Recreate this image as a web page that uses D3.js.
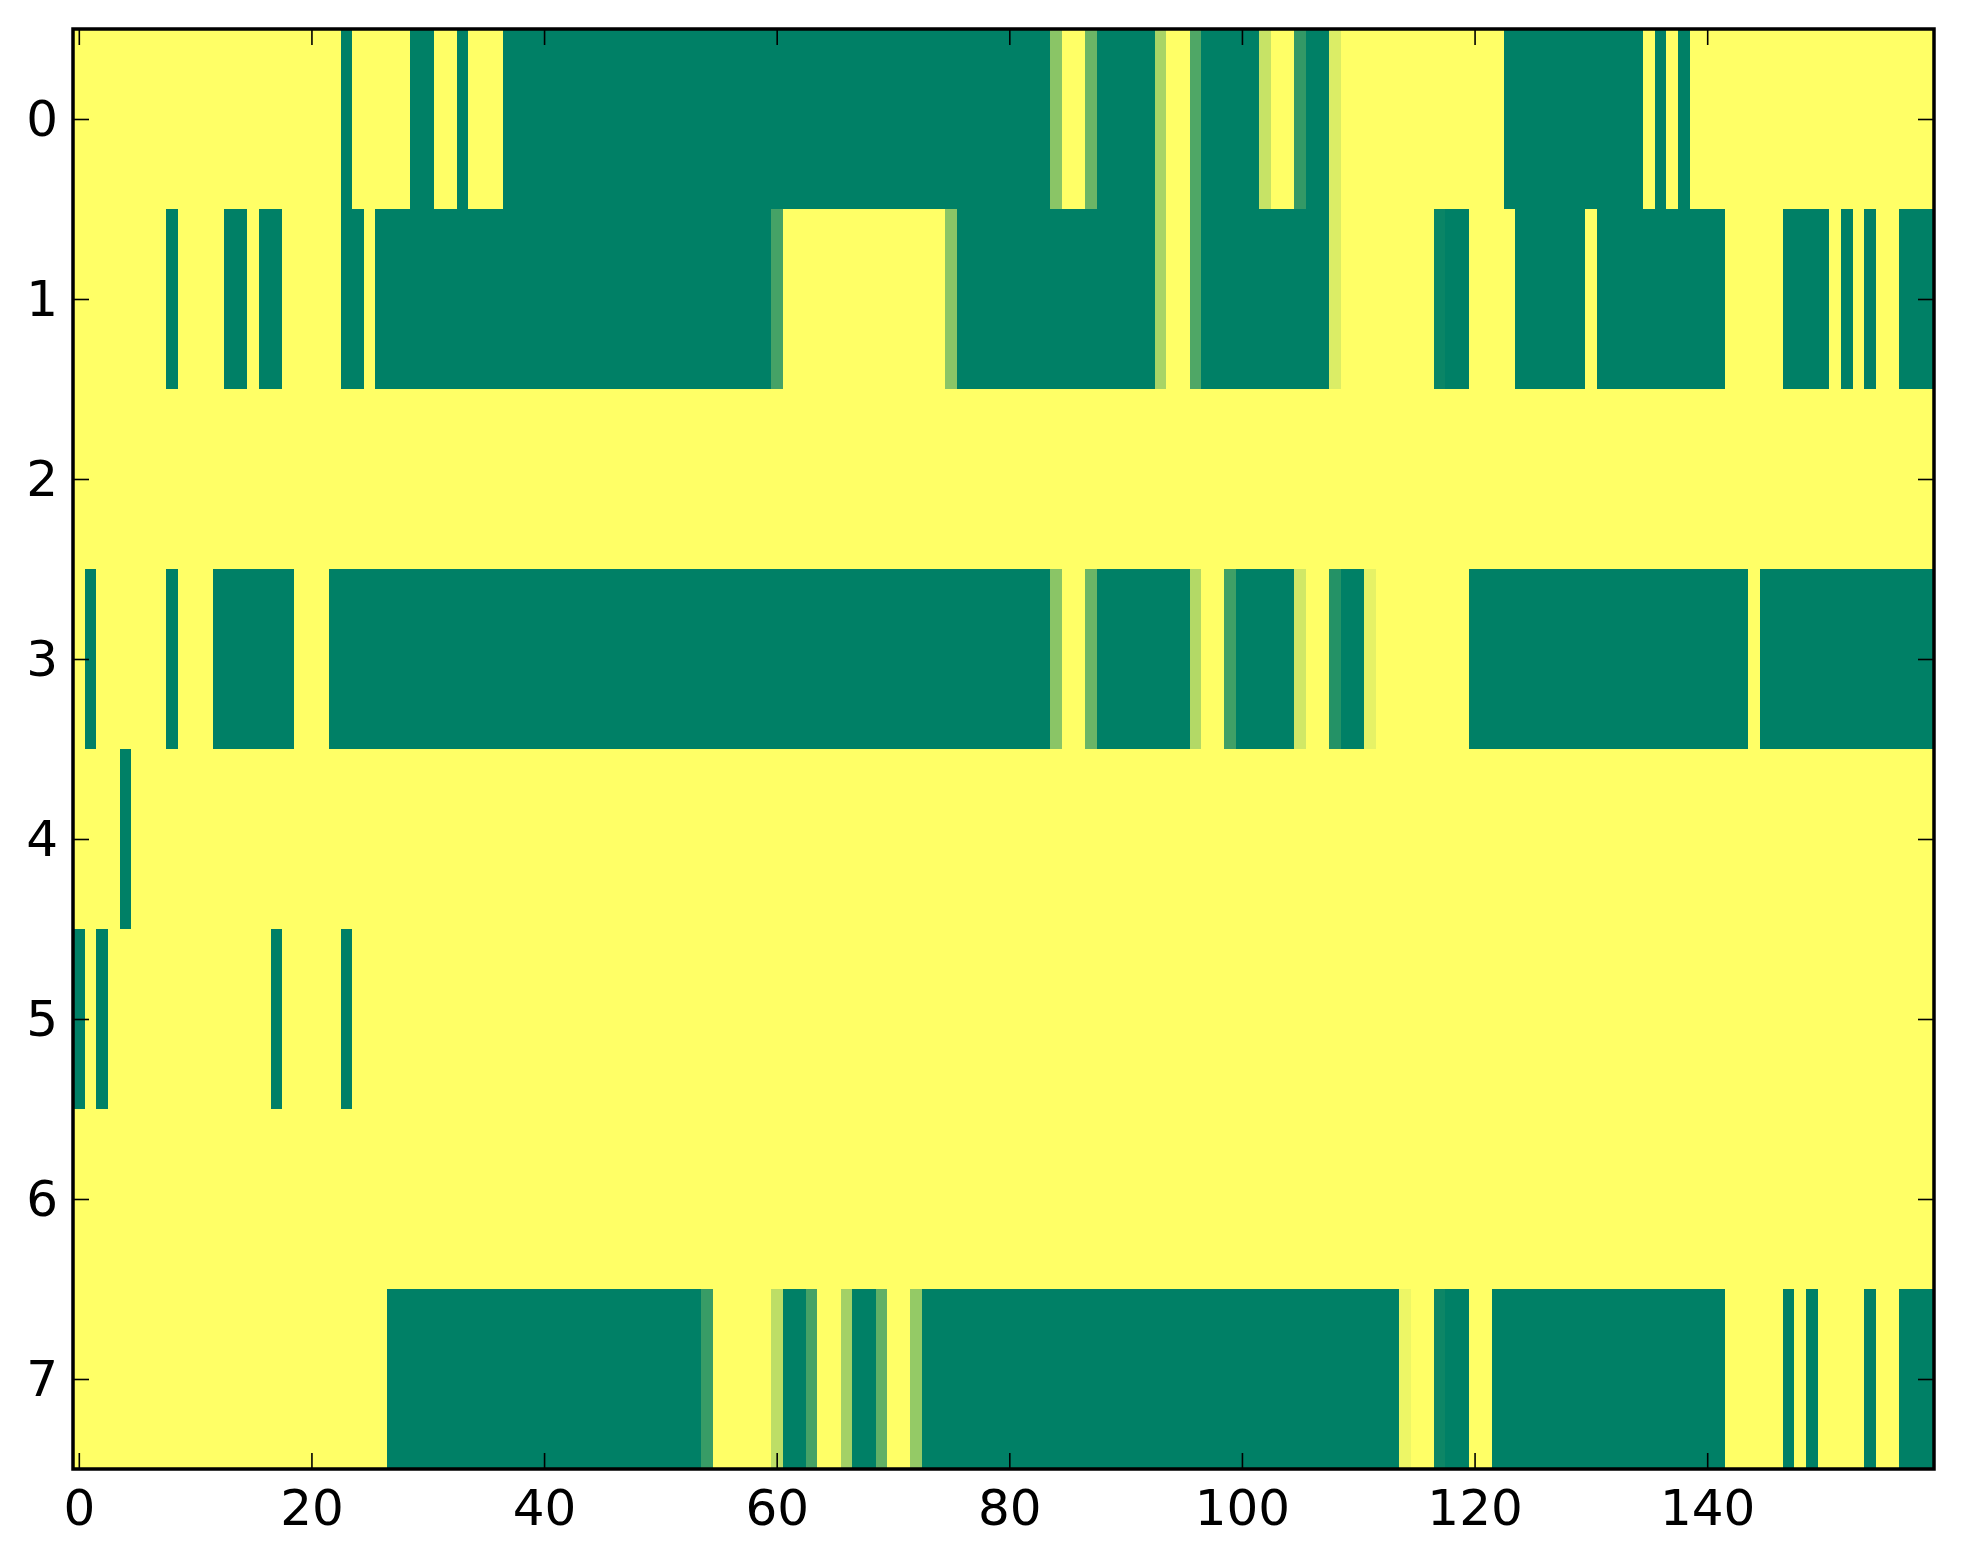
<!DOCTYPE html>
<html>
<head>
<meta charset="utf-8">
<script src="https://cdn.jsdelivr.net/npm/d3@7"></script>
<style>
  body { margin: 0; background: #fff; }
  svg { display: block; }
</style>
</head>
<body>
<div id="chart"></div>
<script>
// one array per image row, 160 columns each (0 = dark green, 1 = yellow)
const row0 = [
  1,1,1,1,1,1,1,1,1,1, 1,1,1,1,1,1,1,1,1,1, 1,1,1,0,1,1,1,1,1,0, 0,1,1,0,1,1,1,0,0,0,
  0,0,0,0,0,0,0,0,0,0, 0,0,0,0,0,0,0,0,0,0, 0,0,0,0,0,0,0,0,0,0, 0,0,0,0,0,0,0,0,0,0,
  0,0,0,0,.54,1,1,.42,0,0, 0,0,0,.66,1,1,.31,0,0,0, 0,0,.78,1,1,.2,0,0,.86,1, 1,1,1,1,1,1,1,1,1,1,
  1,1,1,0,0,0,0,0,0,0, 0,0,0,0,0,1,0,1,0,1, 1,1,1,1,1,1,1,1,1,1, 1,1,1,1,1,1,1,1,1,1
];
const row1 = [
  1,1,1,1,1,1,1,1,0,1, 1,1,1,0,0,1,0,0,1,1, 1,1,1,0,0,1,0,0,0,0, 0,0,0,0,0,0,0,0,0,0,
  0,0,0,0,0,0,0,0,0,0, 0,0,0,0,0,0,0,0,0,0, .27,1,1,1,1,1,1,1,1,1, 1,1,1,1,1,.54,0,0,0,0,
  0,0,0,0,0,0,0,0,0,0, 0,0,0,.66,1,1,.31,0,0,0, 0,0,0,0,0,0,0,0,.86,1, 1,1,1,1,1,1,1,.04,0,0,
  1,1,1,1,0,0,0,0,0,0, 1,0,0,0,0,0,0,0,0,0, 0,0,1,1,1,1,1,0,0,0, 0,1,0,1,0,1,1,0,0,0
];
const row2 = [
  1,1,1,1,1,1,1,1,1,1, 1,1,1,1,1,1,1,1,1,1, 1,1,1,1,1,1,1,1,1,1, 1,1,1,1,1,1,1,1,1,1,
  1,1,1,1,1,1,1,1,1,1, 1,1,1,1,1,1,1,1,1,1, 1,1,1,1,1,1,1,1,1,1, 1,1,1,1,1,1,1,1,1,1,
  1,1,1,1,1,1,1,1,1,1, 1,1,1,1,1,1,1,1,1,1, 1,1,1,1,1,1,1,1,1,1, 1,1,1,1,1,1,1,1,1,1,
  1,1,1,1,1,1,1,1,1,1, 1,1,1,1,1,1,1,1,1,1, 1,1,1,1,1,1,1,1,1,1, 1,1,1,1,1,1,1,1,1,1
];
const row3 = [
  1,0,1,1,1,1,1,1,0,1, 1,1,0,0,0,0,0,0,0,1, 1,1,0,0,0,0,0,0,0,0, 0,0,0,0,0,0,0,0,0,0,
  0,0,0,0,0,0,0,0,0,0, 0,0,0,0,0,0,0,0,0,0, 0,0,0,0,0,0,0,0,0,0, 0,0,0,0,0,0,0,0,0,0,
  0,0,0,0,.54,1,1,.42,0,0, 0,0,0,0,0,0,.7,1,1,.25, 0,0,0,0,0,.82,1,1,.14,0, 0,.9,1,1,1,1,1,1,1,1,
  0,0,0,0,0,0,0,0,0,0, 0,0,0,0,0,0,0,0,0,0, 0,0,0,0,1,0,0,0,0,0, 0,0,0,0,0,0,0,0,0,0
];
const row4 = [
  1,1,1,1,0,1,1,1,1,1, 1,1,1,1,1,1,1,1,1,1, 1,1,1,1,1,1,1,1,1,1, 1,1,1,1,1,1,1,1,1,1,
  1,1,1,1,1,1,1,1,1,1, 1,1,1,1,1,1,1,1,1,1, 1,1,1,1,1,1,1,1,1,1, 1,1,1,1,1,1,1,1,1,1,
  1,1,1,1,1,1,1,1,1,1, 1,1,1,1,1,1,1,1,1,1, 1,1,1,1,1,1,1,1,1,1, 1,1,1,1,1,1,1,1,1,1,
  1,1,1,1,1,1,1,1,1,1, 1,1,1,1,1,1,1,1,1,1, 1,1,1,1,1,1,1,1,1,1, 1,1,1,1,1,1,1,1,1,1
];
const row5 = [
  0,1,0,1,1,1,1,1,1,1, 1,1,1,1,1,1,1,0,1,1, 1,1,1,0,1,1,1,1,1,1, 1,1,1,1,1,1,1,1,1,1,
  1,1,1,1,1,1,1,1,1,1, 1,1,1,1,1,1,1,1,1,1, 1,1,1,1,1,1,1,1,1,1, 1,1,1,1,1,1,1,1,1,1,
  1,1,1,1,1,1,1,1,1,1, 1,1,1,1,1,1,1,1,1,1, 1,1,1,1,1,1,1,1,1,1, 1,1,1,1,1,1,1,1,1,1,
  1,1,1,1,1,1,1,1,1,1, 1,1,1,1,1,1,1,1,1,1, 1,1,1,1,1,1,1,1,1,1, 1,1,1,1,1,1,1,1,1,1
];
const row6 = [
  1,1,1,1,1,1,1,1,1,1, 1,1,1,1,1,1,1,1,1,1, 1,1,1,1,1,1,1,1,1,1, 1,1,1,1,1,1,1,1,1,1,
  1,1,1,1,1,1,1,1,1,1, 1,1,1,1,1,1,1,1,1,1, 1,1,1,1,1,1,1,1,1,1, 1,1,1,1,1,1,1,1,1,1,
  1,1,1,1,1,1,1,1,1,1, 1,1,1,1,1,1,1,1,1,1, 1,1,1,1,1,1,1,1,1,1, 1,1,1,1,1,1,1,1,1,1,
  1,1,1,1,1,1,1,1,1,1, 1,1,1,1,1,1,1,1,1,1, 1,1,1,1,1,1,1,1,1,1, 1,1,1,1,1,1,1,1,1,1
];
const row7 = [
  1,1,1,1,1,1,1,1,1,1, 1,1,1,1,1,1,1,1,1,1, 1,1,1,1,1,1,1,0,0,0, 0,0,0,0,0,0,0,0,0,0,
  0,0,0,0,0,0,0,0,0,0, 0,0,0,0,.22,1,1,1,1,1, .74,0,0,.27,1,1,.64,0,0,.38, 1,1,.58,0,0,0,0,0,0,0,
  0,0,0,0,0,0,0,0,0,0, 0,0,0,0,0,0,0,0,0,0, 0,0,0,0,0,0,0,0,0,0, 0,0,0,0,.93,1,1,.05,0,0,
  1,1,0,0,0,0,0,0,0,0, 0,0,0,0,0,0,0,0,0,0, 0,0,1,1,1,1,1,0,1,0, 1,1,1,1,0,1,1,0,0,0
];
const rows = [row0, row1, row2, row3, row4, row5, row6, row7];

const xTicks = [0, 20, 40, 60, 80, 100, 120, 140];
const yTicks = [0, 1, 2, 3, 4, 5, 6, 7];

const W = 1963, H = 1564;
const margin = {top: 29, right: 29, bottom: 95, left: 73};
const width = W - margin.left - margin.right,
      height = H - margin.top - margin.bottom;

const svg = d3.select("#chart")
  .append("svg")
    .attr("width", W)
    .attr("height", H)
  .append("g")
    .attr("transform", `translate(${margin.left},${margin.top})`);

const nCols = rows[0].length;
const x = d3.scaleLinear().domain([-0.5, nCols - 0.5]).range([0, width]);
const y = d3.scaleLinear().domain([-0.5, rows.length - 0.5]).range([0, height]);

// matplotlib "summer" colormap
const color = d3.scaleLinear().domain([0, 1]).range(["#008066", "#ffff66"]);

const cells = [];
rows.forEach(function(r, i) {
  r.forEach(function(v, j) { cells.push({row: i, col: j, v: v}); });
});

svg.selectAll("rect.cell")
  .data(cells)
  .join("rect")
    .attr("class", "cell")
    .attr("x", d => x(d.col - 0.5))
    .attr("y", d => y(d.row - 0.5))
    .attr("width", d => x(d.col + 0.5) - x(d.col - 0.5) + 0.5)
    .attr("height", d => y(d.row + 0.5) - y(d.row - 0.5) + 0.5)
    .attr("shape-rendering", "crispEdges")
    .style("fill", d => color(d.v));

// ticks point inwards on all four sides, like classic matplotlib
const tl = 16;
const fontStyle = function(g) {
  g.select(".domain").remove();
  g.selectAll(".tick line").attr("stroke", "#000").attr("stroke-width", 1.6);
  g.selectAll(".tick text")
    .attr("fill", "#000")
    .style("font-family", "'DejaVu Sans', sans-serif")
    .style("font-size", "50px");
};

svg.append("g")
    .attr("transform", `translate(0, ${height})`)
    .call(d3.axisBottom(x).tickValues(xTicks).tickSizeInner(-tl).tickSizeOuter(0).tickPadding(20))
    .call(fontStyle);
svg.append("g")
    .call(d3.axisTop(x).tickValues(xTicks).tickSizeInner(-tl).tickSizeOuter(0).tickFormat(""))
    .call(fontStyle);
svg.append("g")
    .call(d3.axisLeft(y).tickValues(yTicks).tickSizeInner(-tl).tickSizeOuter(0).tickPadding(15))
    .call(fontStyle);
svg.append("g")
    .attr("transform", `translate(${width}, 0)`)
    .call(d3.axisRight(y).tickValues(yTicks).tickSizeInner(-tl).tickSizeOuter(0).tickFormat(""))
    .call(fontStyle);

// frame
svg.append("rect")
    .attr("width", width)
    .attr("height", height)
    .attr("fill", "none")
    .attr("stroke", "#000")
    .attr("stroke-width", 3.5);
</script>
</body>
</html>
